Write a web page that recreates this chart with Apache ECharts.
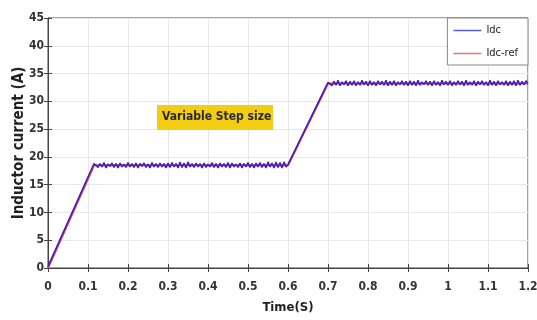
<!DOCTYPE html>
<html>
<head>
<meta charset="utf-8">
<script src="https://cdn.jsdelivr.net/npm/echarts@6/dist/echarts.min.js"></script>
<style>
  html, body { margin: 0; padding: 0; background: #fff; }
  #chart { width: 537px; height: 320px; }
</style>
</head>
<body>
<div id="chart"></div>
<script>
// inductor current vs time, variable step size
var chart = echarts.init(document.getElementById('chart'));

var time = [
  0, 0.115,
  0.120, 0.125, 0.130, 0.135, 0.140, 0.145, 0.150, 0.155, 0.160, 0.165,
  0.170, 0.175, 0.180, 0.185, 0.190, 0.195, 0.200, 0.205, 0.210, 0.215,
  0.220, 0.225, 0.230, 0.235, 0.240, 0.245, 0.250, 0.255, 0.260, 0.265,
  0.270, 0.275, 0.280, 0.285, 0.290, 0.295, 0.300, 0.305, 0.310, 0.315,
  0.320, 0.325, 0.330, 0.335, 0.340, 0.345, 0.350, 0.355, 0.360, 0.365,
  0.370, 0.375, 0.380, 0.385, 0.390, 0.395, 0.400, 0.405, 0.410, 0.415,
  0.420, 0.425, 0.430, 0.435, 0.440, 0.445, 0.450, 0.455, 0.460, 0.465,
  0.470, 0.475, 0.480, 0.485, 0.490, 0.495, 0.500, 0.505, 0.510, 0.515,
  0.520, 0.525, 0.530, 0.535, 0.540, 0.545, 0.550, 0.555, 0.560, 0.565,
  0.570, 0.575, 0.580, 0.585, 0.590, 0.595, 0.600,
  0.700,
  0.705, 0.710, 0.715, 0.720, 0.725, 0.730, 0.735, 0.740, 0.745, 0.750,
  0.755, 0.760, 0.765, 0.770, 0.775, 0.780, 0.785, 0.790, 0.795, 0.800,
  0.805, 0.810, 0.815, 0.820, 0.825, 0.830, 0.835, 0.840, 0.845, 0.850,
  0.855, 0.860, 0.865, 0.870, 0.875, 0.880, 0.885, 0.890, 0.895, 0.900,
  0.905, 0.910, 0.915, 0.920, 0.925, 0.930, 0.935, 0.940, 0.945, 0.950,
  0.955, 0.960, 0.965, 0.970, 0.975, 0.980, 0.985, 0.990, 0.995, 1.000,
  1.005, 1.010, 1.015, 1.020, 1.025, 1.030, 1.035, 1.040, 1.045, 1.050,
  1.055, 1.060, 1.065, 1.070, 1.075, 1.080, 1.085, 1.090, 1.095, 1.100,
  1.105, 1.110, 1.115, 1.120, 1.125, 1.130, 1.135, 1.140, 1.145, 1.150,
  1.155, 1.160, 1.165, 1.170, 1.175, 1.180, 1.185, 1.190, 1.195, 1.200
];

// measured current with switching ripple
var idc = [
  0.3, 18.8,
  18.9, 18.1, 18.8, 18.2, 19.0, 18.0, 18.7, 18.3, 18.9, 18.1,
  18.8, 18.0, 18.9, 18.2, 18.7, 18.1, 19.0, 18.2, 18.8, 18.1,
  18.9, 18.0, 18.8, 18.3, 18.9, 18.1, 18.7, 18.0, 19.0, 18.2,
  18.8, 18.1, 18.9, 18.2, 18.8, 18.0, 18.9, 18.1, 19.0, 18.2,
  18.8, 18.0, 19.1, 18.1, 18.9, 18.0, 19.1, 18.2, 18.8, 18.1,
  18.9, 18.2, 18.8, 18.0, 18.9, 18.1, 18.7, 18.2, 19.0, 18.1,
  18.8, 18.0, 18.9, 18.2, 18.8, 18.1, 19.0, 18.0, 18.9, 18.2,
  18.7, 18.1, 18.9, 18.0, 18.8, 18.2, 19.0, 18.1, 18.8, 18.0,
  18.9, 18.2, 19.0, 18.1, 18.8, 18.0, 19.1, 18.2, 18.9, 18.0,
  19.1, 18.1, 19.0, 18.0, 19.1, 18.2, 18.6,
  33.4,
  33.7, 32.8, 33.6, 32.9, 33.8, 32.8, 33.5, 33.0, 33.7, 32.8,
  33.6, 32.9, 33.7, 32.8, 33.5, 32.9, 33.8, 33.0, 33.6, 32.8,
  33.7, 32.9, 33.5, 32.8, 33.7, 33.0, 33.6, 32.9, 33.8, 32.8,
  33.6, 32.9, 33.7, 32.8, 33.5, 33.0, 33.7, 32.9, 33.6, 32.8,
  33.7, 32.9, 33.6, 32.8, 33.8, 32.9, 33.5, 33.0, 33.7, 32.9,
  33.6, 32.8, 33.7, 32.9, 33.5, 32.8, 33.8, 33.0, 33.6, 32.9,
  33.7, 32.8, 33.5, 32.9, 33.7, 33.0, 33.6, 32.8, 33.8, 32.9,
  33.5, 32.9, 33.7, 32.8, 33.6, 33.0, 33.7, 32.9, 33.5, 32.8,
  33.8, 32.9, 33.6, 32.8, 33.7, 33.0, 33.5, 32.9, 33.7, 32.8,
  33.6, 32.9, 33.7, 32.8, 33.8, 32.9, 33.6, 33.0, 33.7, 33.2
];

// reference current
var refTime = [0, 0.115, 0.60, 0.70, 1.20];
var idcRef = [0, 18.5, 18.5, 33.2, 33.2];

var yTicks = { min: 0, max: 45, interval: 5 };
var xTicks = { min: 0, max: 1.2, interval: 0.1 };

var font = 'DejaVu Sans Condensed, Liberation Sans, sans-serif';

function pairs(xs, ys) {
  return xs.map(function (x, i) { return [x, ys[i]]; });
}

var tickStyle = { inside: true, length: 4, lineStyle: { color: '#444' } };

var option = {
  animation: false,
  backgroundColor: '#fff',
  grid: {
    left: 48, right: 9, top: 18, bottom: 52,
    outerBoundsMode: 'none',
    containLabel: false,
    show: true, borderColor: '#444', borderWidth: 1
  },
  legend: {
    orient: 'vertical',
    right: 9, top: 18,
    backgroundColor: '#fff',
    borderColor: '#888', borderWidth: 1,
    padding: [7, 10, 6, 6],
    icon: 'rect',
    itemWidth: 28, itemHeight: 1.5, itemGap: 12,
    textStyle: { fontFamily: font, fontSize: 11, color: '#222' },
    data: [
      { name: 'Idc', itemStyle: { color: '#5a5ae0' } },
      { name: 'Idc-ref', itemStyle: { color: '#f07070' } }
    ]
  },
  xAxis: [
    {
      type: 'value',
      min: xTicks.min, max: xTicks.max, interval: xTicks.interval,
      name: 'Time(S)', nameLocation: 'middle', nameGap: 33,
      nameTextStyle: { fontFamily: font, fontWeight: 'bold', fontSize: 13, color: '#222' },
      axisLine: { lineStyle: { color: '#444' } },
      axisTick: tickStyle,
      axisLabel: {
        margin: 13, fontFamily: font, fontWeight: 'bold', fontSize: 12, color: '#333',
        formatter: function (v) { return String(Math.round(v * 10) / 10); }
      },
      splitLine: { show: true, lineStyle: { color: '#e8e8e8' } }
    },
    {
      type: 'value', position: 'top',
      min: xTicks.min, max: xTicks.max, interval: xTicks.interval,
      axisLine: { lineStyle: { color: '#444' } },
      axisTick: tickStyle,
      axisLabel: { show: false },
      splitLine: { show: false }
    }
  ],
  yAxis: [
    {
      type: 'value',
      min: yTicks.min, max: yTicks.max, interval: yTicks.interval,
      name: 'Inductor current (A)', nameLocation: 'middle', nameGap: 21,
      nameMoveOverlap: false,
      nameTextStyle: { fontFamily: font, fontWeight: 'bold', fontSize: 15, color: '#222' },
      axisLine: { show: true, lineStyle: { color: '#444' } },
      axisTick: { show: true, inside: true, length: 4, lineStyle: { color: '#444' } },
      axisLabel: { margin: 4, fontFamily: font, fontWeight: 'bold', fontSize: 12, color: '#333' },
      splitLine: { show: true, lineStyle: { color: '#e8e8e8' } }
    },
    {
      type: 'value', position: 'right',
      min: yTicks.min, max: yTicks.max, interval: yTicks.interval,
      axisLine: { show: true, lineStyle: { color: '#444' } },
      axisTick: { show: true, inside: true, length: 4, lineStyle: { color: '#444' } },
      axisLabel: { show: false },
      splitLine: { show: false }
    }
  ],
  graphic: [
    {
      type: 'rect', left: 157, top: 105, z: 100,
      shape: { width: 116, height: 25 },
      style: { fill: '#f3cd12' }
    },
    {
      type: 'text', left: 162, top: 111, z: 101,
      style: {
        text: 'Variable Step size',
        font: 'bold 12px ' + font,
        fill: '#2a2a2a'
      }
    }
  ],
  series: [
    {
      name: 'Idc-ref', type: 'line', symbol: 'none',
      data: pairs(refTime, idcRef),
      lineStyle: { color: '#e03a3a', width: 2 },
      itemStyle: { color: '#e03a3a' }
    },
    {
      name: 'Idc', type: 'line', symbol: 'none',
      data: pairs(time, idc),
      lineStyle: { color: '#3a22c8', width: 1.5 },
      itemStyle: { color: '#3a22c8' }
    }
  ]
};

chart.setOption(option);
</script>
</body>
</html>
